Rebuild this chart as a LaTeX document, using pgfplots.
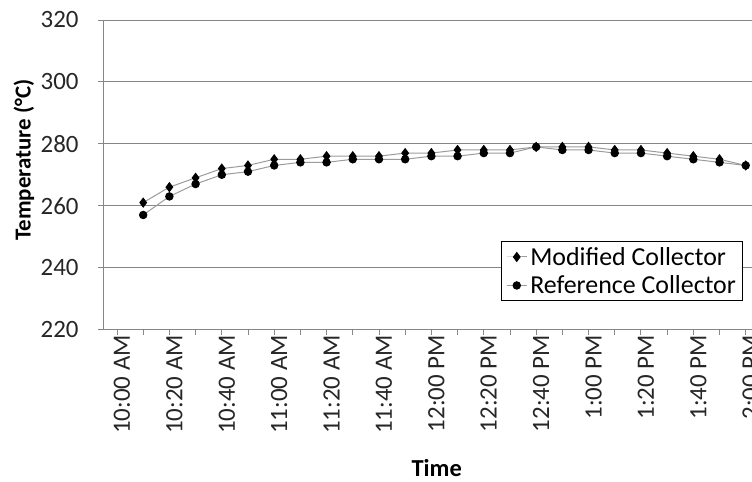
\documentclass[border=0pt]{standalone}
\usepackage{fontspec}
\setmainfont{Carlito}
\usepackage{pgfplots}
\pgfplotsset{compat=1.18}
\definecolor{axisgray}{RGB}{134,134,134}
\definecolor{linegray}{RGB}{155,155,155}
\begin{document}
\begin{tikzpicture}
\begin{axis}[
 at={(103.3bp,152.5bp)}, anchor=south west,
 scale only axis, width=648.7bp, height=309.5bp,
 xmin=-5.23, xmax=242.4, ymin=220, ymax=320,
 ytick={220,240,...,320},
 xtick={0,10,...,240},
 xticklabels={10:00 AM,,10:20 AM,,10:40 AM,,11:00 AM,,11:20 AM,,11:40 AM,,12:00 PM,,12:20 PM,,12:40 PM,,1:00 PM,,1:20 PM,,1:40 PM,,2:00 PM},
 axis x line*=bottom, axis y line*=left,
 axis line style={axisgray, line width=0.9bp},
 tick align=outside, major tick length=5.5bp,
 tick style={axisgray, line width=0.9bp},
 ymajorgrids, grid style={axisgray, line width=0.9bp},
 /pgf/number format/assume math mode=true,
 ticklabel style={font=\fontsize{25}{29}\selectfont, text=black!85},
 xticklabel style={rotate=90, anchor=east, inner sep=0pt, yshift=-5bp},
 yticklabel style={anchor=east, inner sep=0pt, xshift=-19bp},
 xlabel={Time}, ylabel={Temperature (°C)},
 label style={font=\bfseries\fontsize{23}{27}\selectfont, text=black},
 xlabel style={at={(axis description cs:0.514,-0.4475)}, anchor=center, inner sep=0pt, font=\bfseries\fontsize{24.5}{28}\selectfont},
 ylabel style={at={(axis description cs:-0.1222,0.5477)}, rotate=0, anchor=center, inner sep=0pt},
 legend style={at={(axis cs:238.9,248.5)}, anchor=north east, draw=black, line width=0.9bp,
   font=\fontsize{26}{30}\selectfont, inner xsep=5bp, inner ysep=4bp, row sep=6bp, column sep=1.5bp, fill=white,
   nodes={inner sep=1.5bp}},
 legend cell align=left,
 legend image code/.code={\draw[mark repeat=2,mark phase=2] plot coordinates {(0bp,0bp)(10bp,0bp)(20bp,0bp)};},
]
\addplot[linegray, line width=1bp, mark=diamond*, mark size=4.4bp, mark options={black, fill=black, solid}] coordinates {
(10,261)(20,266)(30,269)(40,272)(50,273)(60,275)(70,275)(80,276)(90,276)(100,276)(110,277)(120,277)
(130,278)(140,278)(150,278)(160,279)(170,279)(180,279)(190,278)(200,278)(210,277)(220,276)(230,275)(240,273)};
\addlegendentry{Modified Collector}
\addplot[linegray, line width=1bp, mark=*, mark size=3.7bp, mark options={black, fill=black, solid}] coordinates {
(10,257)(20,263)(30,267)(40,270)(50,271)(60,273)(70,274)(80,274)(90,275)(100,275)(110,275)(120,276)
(130,276)(140,277)(150,277)(160,279)(170,278)(180,278)(190,277)(200,277)(210,276)(220,275)(230,274)(240,273)};
\addlegendentry{Reference Collector}
\end{axis}
\pgfresetboundingbox
\useasboundingbox (0,0) rectangle (752bp,482bp);
\end{tikzpicture}
\end{document}
